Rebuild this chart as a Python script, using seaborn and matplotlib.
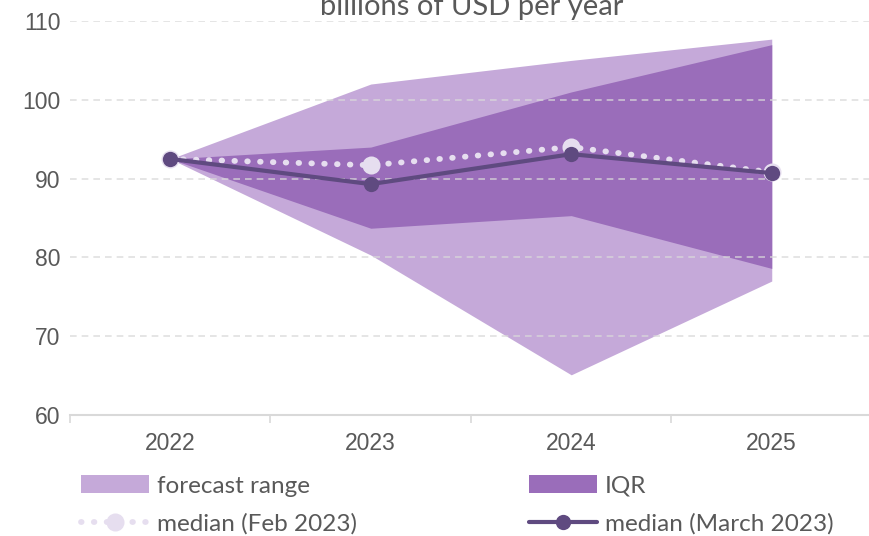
import matplotlib
matplotlib.use("Agg")
import matplotlib.pyplot as plt
import seaborn as sns
import pandas as pd
import numpy as np
from matplotlib.patches import Patch
from matplotlib.lines import Line2D
from matplotlib.ticker import FixedLocator

years = ["2022", "2023", "2024", "2025"]
range_low = [92.5, 80.3, 65.1, 77.0]
range_high = [92.5, 102.0, 105.0, 107.7]
iqr_low = [92.5, 83.7, 85.3, 78.6]
iqr_high = [92.5, 94.0, 101.0, 107.0]
median_feb = [92.5, 91.7, 94.0, 90.8]
median_mar = [92.5, 89.3, 93.1, 90.7]

c_range = "#C5A9D9"
c_iqr = "#9A6DBA"
c_mar = "#5F4A80"
c_feb = "#E6DEEF"
txt = "#595959"

sns.set_theme(style="white")
plt.rcParams["font.family"] = ["Liberation Sans", "DejaVu Sans"]

fig = plt.figure(figsize=(8.7, 5.36), dpi=100)
ax = fig.add_axes([70/870, 1-415/536, 802/870, (415-21)/536])

x = np.arange(len(years))
df = pd.DataFrame({"x": x, "year": years, "feb": median_feb, "mar": median_mar})

ax.fill_between(x, range_low, range_high, color=c_range, lw=0, zorder=1)
ax.fill_between(x, iqr_low, iqr_high, color=c_iqr, lw=0, zorder=2)

sns.lineplot(data=df, x="x", y="feb", ax=ax, color=c_feb, lw=4.2,
             linestyle=(0, (0.1, 2.1)), dash_capstyle="round", marker="o",
             markersize=13, markeredgewidth=0, zorder=4)
sns.lineplot(data=df, x="x", y="mar", ax=ax, color=c_mar, lw=3.0,
             marker="o", markersize=11, markeredgewidth=0, zorder=5)

ax.set_xlim(-0.5, 3.5)
ax.set_ylim(60, 110)
ax.set_yticks([60, 70, 80, 90, 100, 110])
ax.yaxis.grid(True, color="#D9D9D9", linestyle=(0, (4, 3)), lw=1.2, alpha=0.8, zorder=3)
ax.set_axisbelow(False)
for s in ["top", "right", "left"]:
    ax.spines[s].set_visible(False)
ax.spines["bottom"].set_color("#D9D9D9")
ax.spines["bottom"].set_linewidth(1.5)
ax.set_xticks(x)
ax.set_xticklabels(years)
ax.xaxis.set_minor_locator(FixedLocator([-0.5, 0.5, 1.5, 2.5]))
ax.tick_params(axis="x", which="major", length=0, pad=12, labelsize=16.5, labelcolor=txt)
ax.tick_params(axis="x", which="minor", length=6, width=1.2, color="#D9D9D9", bottom=True)
ax.tick_params(axis="y", length=0, pad=7, labelsize=16.5, labelcolor=txt)
ax.set_xlabel("")
ax.set_ylabel("")

fig.text(472/870, 1-15/536, "billions of USD per year", ha="center", va="baseline",
         fontsize=21, color=txt, family=["Lato", "DejaVu Sans"])

handles = [
    Patch(facecolor=c_range, edgecolor="none"),
    Line2D([0], [0], color=c_feb, lw=4.2, linestyle=(0, (0.1, 2.1)), dash_capstyle="round",
           marker="o", markersize=13, markeredgewidth=0),
    Patch(facecolor=c_iqr, edgecolor="none"),
    Line2D([0], [0], color=c_mar, lw=3.0, marker="o", markersize=11, markeredgewidth=0),
]
labels = ["forecast range", "median (Feb 2023)", "IQR", "median (March 2023)"]
leg = fig.legend(handles, labels, ncol=2, loc="upper left", bbox_to_anchor=(74/870, 1-468/536),
                 frameon=False, handlelength=2.8, handleheight=0.75,
                 columnspacing=7.1, labelspacing=0.68, handletextpad=0.3,
                 borderaxespad=0.0, borderpad=0.3,
                 prop={"family": ["Lato", "DejaVu Sans"], "size": 17.5})
for t in leg.get_texts():
    t.set_color(txt)

fig.savefig("out.png", dpi=100)
